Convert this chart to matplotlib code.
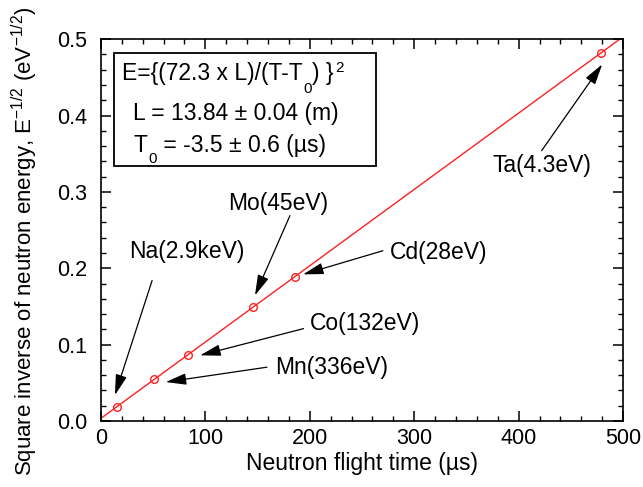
import numpy as np
import matplotlib
matplotlib.use("Agg")
import matplotlib.pyplot as plt
from matplotlib.ticker import MultipleLocator
from matplotlib.patches import Rectangle

plt.rcParams['font.family'] = ['Liberation Sans', 'DejaVu Sans']
plt.rcParams['mathtext.fontset'] = 'custom'
plt.rcParams['mathtext.rm'] = 'Liberation Sans'
plt.rcParams['mathtext.it'] = 'Liberation Sans:italic'

# resonance peaks: flight time (us) and E^-1/2 (eV^-1/2)
labels = ['Na(2.9keV)', 'Mn(336eV)', 'Co(132eV)', 'Mo(45eV)', 'Cd(28eV)', 'Ta(4.3eV)']
tof = [15.1, 51.1, 83.6, 145.7, 185.6, 479.0]
inv_sqrt_e = [0.0186, 0.0546, 0.0870, 0.1491, 0.1890, 0.4822]

# label centre, arrow tail, arrow head (data coords)
text_pos = [(82, 0.222), (221, 0.0705), (253, 0.128), (170, 0.285), (323, 0.221), (422, 0.334)]
tail_pos = [(49, 0.184), (159, 0.0705), (194, 0.121), (181, 0.269), (270, 0.223), (422, 0.354)]
head_pos = [(13.4, 0.034), (62, 0.051), (95, 0.086), (147.5, 0.1645), (193.5, 0.192), (480, 0.467)]

FS = 16.5
FS_SUB = 11

fig = plt.figure(figsize=(6.43, 4.87), dpi=100)
ax = fig.add_axes([0.157, 0.1355, 0.812, 0.784])

# linear fit through the peaks
slope, icpt = np.polyfit(tof, inv_sqrt_e, 1)
xs = np.array([0, 500])
ax.plot(xs, slope * xs + icpt, color='#ff2020', lw=1.0)
ax.plot(tof, inv_sqrt_e, 'o', mfc='none', mec='#ff2020', ms=5.5, mew=1.0)

for lab, tp, tl, hd in zip(labels, text_pos, tail_pos, head_pos):
    ax.text(tp[0], tp[1], lab, ha='center', va='center', fontsize=FS)
    ax.annotate('', xy=hd, xytext=tl,
                arrowprops=dict(arrowstyle='-|>,head_length=0.9,head_width=0.25',
                                color='black', lw=0.9, mutation_scale=14,
                                shrinkA=0, shrinkB=0))

# fit parameters box, sub/superscripts chained onto the main text
ax.add_patch(Rectangle((0.025, 0.668), 0.502, 0.295, transform=ax.transAxes,
                       fill=False, ec='black', lw=1.3))
l1 = ax.text(0.040, 0.893, 'E={(72.3 x L)/(T-T', transform=ax.transAxes,
             ha='left', va='baseline', fontsize=FS)
s1 = ax.annotate('0', xy=(1, 0), xycoords=l1, xytext=(0.5, -2.5),
                 textcoords='offset points', ha='left', va='center', fontsize=FS_SUB)
c1 = ax.annotate(') }', xy=(1, 0), xycoords=(s1, l1), xytext=(0.5, 0),
                 textcoords='offset points', ha='left', va='bottom', fontsize=FS)
ax.annotate('2', xy=(1, 1), xycoords=(c1, l1), xytext=(1, 1),
            textcoords='offset points', ha='left', va='top', fontsize=FS_SUB)

ax.text(0.061, 0.788, 'L = 13.84 ± 0.04 (m)', transform=ax.transAxes,
        ha='left', va='baseline', fontsize=FS)

l3 = ax.text(0.063, 0.704, 'T', transform=ax.transAxes,
             ha='left', va='baseline', fontsize=FS)
s3 = ax.annotate('0', xy=(1, 0), xycoords=l3, xytext=(0.5, -1),
                 textcoords='offset points', ha='left', va='center', fontsize=FS_SUB)
ax.annotate(' = -3.5 ± 0.6 (µs)', xy=(1, 0), xycoords=(s3, l3), xytext=(0, 0),
            textcoords='offset points', ha='left', va='bottom', fontsize=FS)

ax.set_xlim(0, 500)
ax.set_ylim(0, 0.5)
ax.xaxis.set_major_locator(MultipleLocator(100))
ax.xaxis.set_minor_locator(MultipleLocator(20))
ax.yaxis.set_major_locator(MultipleLocator(0.1))
ax.yaxis.set_minor_locator(MultipleLocator(0.02))
ax.yaxis.set_major_formatter(plt.FormatStrFormatter('%.1f'))
ax.tick_params(which='both', direction='in', top=True, right=True, labelsize=15.5)
ax.tick_params(which='major', length=7, width=1.1)
ax.tick_params(which='minor', length=3.5, width=1.0)
ax.tick_params(axis='y', which='major', pad=10)
ax.tick_params(axis='x', which='major', pad=5)
for sp in ax.spines.values():
    sp.set_linewidth(1.2)

ax.set_xlabel('Neutron flight time (µs)', fontsize=FS, labelpad=2)
ax.set_ylabel(r'Square inverse of neutron energy, E$^{-1/2}$ (eV$^{-1/2}$)',
              fontsize=16)
ax.yaxis.set_label_coords(-0.117, 0.47)

fig.savefig('out.png', dpi=100)
